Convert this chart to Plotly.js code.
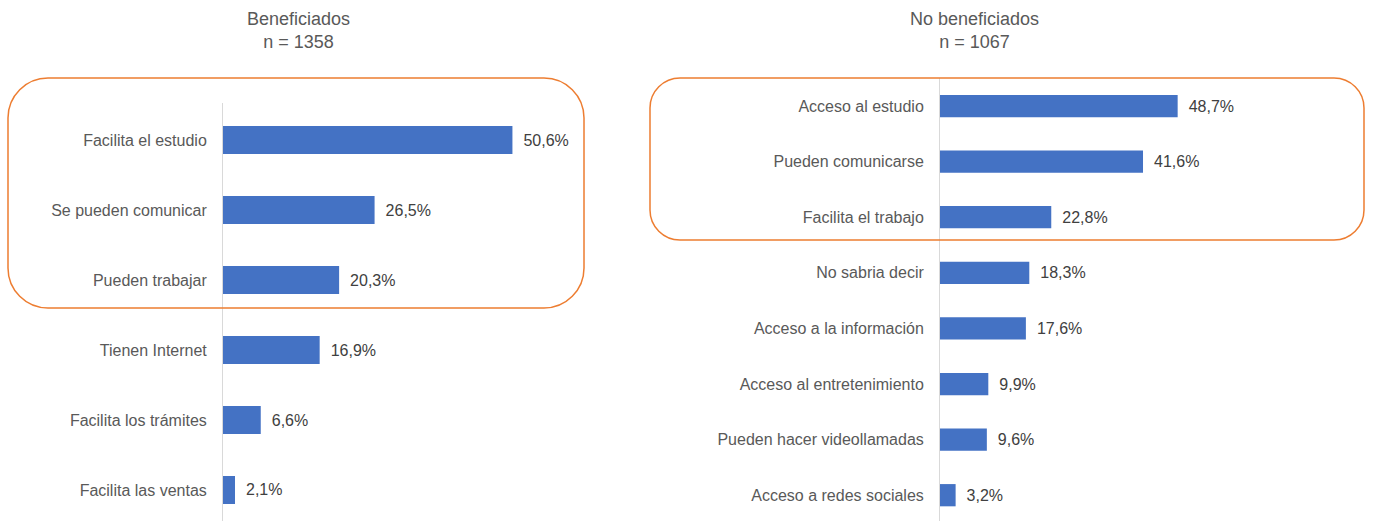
<!DOCTYPE html>
<html><head><meta charset="utf-8">
<script src="https://cdn.plot.ly/plotly-3.0.1.min.js"></script>
<style>html,body{margin:0;padding:0;background:#fff}#chart{width:1374px;height:521px}</style>
</head><body><div id="chart"></div>
<script>
const leftCats = ["Facilita el estudio","Se pueden comunicar","Pueden trabajar","Tienen Internet","Facilita los trámites","Facilita las ventas"];
const leftVals = [50.6,26.5,20.3,16.9,6.6,2.1];
const rightCats = ["Acceso al estudio","Pueden comunicarse","Facilita el trabajo","No sabria decir","Acceso a la información","Acceso al entretenimiento","Pueden hacer videollamadas","Acceso a redes sociales"];
const rightVals = [48.7,41.6,22.8,18.3,17.6,9.9,9.6,3.2];
const leftTitle = "Beneficiados<br>n = 1358";
const rightTitle = "No beneficiados<br>n = 1067";

const W = 1374, H = 521;
const FONT = "Liberation Sans, Arial, sans-serif";
const fmt = v => v.toFixed(1).replace('.', ',') + '%';

function rrect(x0,y0,x1,y1,r){
  const k = 0.5523*r;
  const X = p => (p/W).toFixed(5), Y = p => (1-p/H).toFixed(5);
  return `M ${X(x0+r)},${Y(y0)} L ${X(x1-r)},${Y(y0)} C ${X(x1-r+k)},${Y(y0)} ${X(x1)},${Y(y0+r-k)} ${X(x1)},${Y(y0+r)} ` +
         `L ${X(x1)},${Y(y1-r)} C ${X(x1)},${Y(y1-r+k)} ${X(x1-r+k)},${Y(y1)} ${X(x1-r)},${Y(y1)} ` +
         `L ${X(x0+r)},${Y(y1)} C ${X(x0+r-k)},${Y(y1)} ${X(x0)},${Y(y1-r+k)} ${X(x0)},${Y(y1-r)} ` +
         `L ${X(x0)},${Y(y0+r)} C ${X(x0)},${Y(y0+r-k)} ${X(x0+r-k)},${Y(y0)} ${X(x0+r)},${Y(y0)} Z`;
}

const barStyle = {type:'bar', orientation:'h', marker:{color:'#4472C4'}, textposition:'outside',
  textfont:{family:FONT, size:16, color:'#404040'}, cliponaxis:false, hoverinfo:'skip', width:0.4};

const traces = [
  Object.assign({}, barStyle, {x:leftVals, y:leftCats, text:leftVals.map(v=>'\u2002'+fmt(v)), xaxis:'x', yaxis:'y'}),
  Object.assign({}, barStyle, {x:rightVals, y:rightCats, text:rightVals.map(v=>'\u2002'+fmt(v)), xaxis:'x2', yaxis:'y2'})
];

const axX = {showgrid:false, zeroline:false, showticklabels:false, showline:false, fixedrange:true};
const axY = {type:'category', showgrid:false, zeroline:false, showline:true, linecolor:'#d9d9d9', linewidth:1,
  ticks:'outside', ticklen:12, tickcolor:'rgba(0,0,0,0)', automargin:false,
  tickfont:{family:FONT, size:16, color:'#595959'}};

const layout = {
  width:W, height:H, margin:{l:0,r:0,t:0,b:0}, showlegend:false,
  paper_bgcolor:'#fff', plot_bgcolor:'rgba(0,0,0,0)',
  xaxis: Object.assign({}, axX, {domain:[223/W, (223+70*5.72)/W], range:[0,70], anchor:'y'}),
  yaxis: Object.assign({}, axY, {domain:[0, 1-103/H], range:[5.443,-0.529], anchor:'x'}),
  xaxis2: Object.assign({}, axX, {domain:[940/W, (940+85*4.88)/W], range:[0,85], anchor:'y2'}),
  yaxis2: Object.assign({}, axY, {domain:[0, 1-78/H], range:[7.464,-0.504], anchor:'x2'}),
  annotations:[
    {text:leftTitle, xref:'paper', yref:'paper', x:298/W, y:1-7/H, xanchor:'center', yanchor:'top', showarrow:false,
     font:{family:FONT, size:18, color:'#595959'}},
    {text:rightTitle, xref:'paper', yref:'paper', x:974/W, y:1-7/H, xanchor:'center', yanchor:'top', showarrow:false,
     font:{family:FONT, size:18, color:'#595959'}}
  ],
  shapes:[
    {type:'path', xref:'paper', yref:'paper', path:rrect(8,78,584,308,40), line:{color:'#ED7D31', width:1.5}, layer:'above'},
    {type:'path', xref:'paper', yref:'paper', path:rrect(650,78,1364,240,30), line:{color:'#ED7D31', width:1.5}, layer:'above'}
  ]
};
Plotly.newPlot('chart', traces, layout, {staticPlot:true, displayModeBar:false});
</script></body></html>
